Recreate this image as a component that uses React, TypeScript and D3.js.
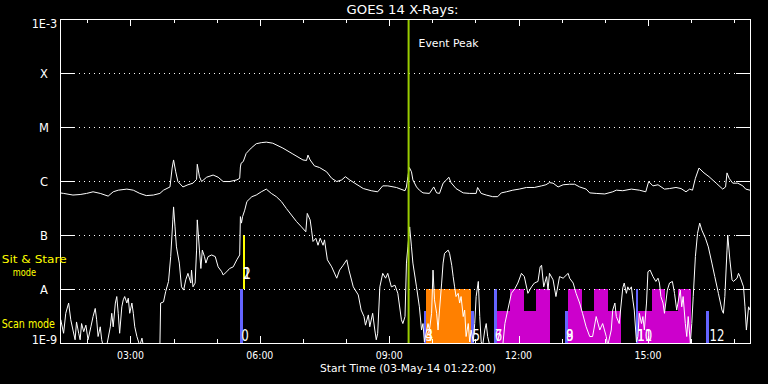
import React from "react";
import * as d3 from "d3";

// ---------- data ----------
const START_UTC = Date.UTC(2014, 4, 3, 1, 22); // 03-May-14 01:22:00
const SPAN_MIN = 960;
const EVENT_PEAK_MIN = 485;

// [minutes after start, log10 flux W/m^2] — GOES long channel (1-8 Å)
const longSeries: [number, number][] = [
  [0,-6.22],[5,-6.23],[18,-6.26],[28,-6.25],[37,-6.23],[46,-6.20],[56,-6.23],[67,-6.28],[74,-6.20],[81,-6.17],
  [93,-6.15],[102,-6.17],[111,-6.23],[120,-6.27],[130,-6.26],[139,-6.23],[144,-6.17],[153,-6.11],[156,-5.76],[158,-5.61],
  [161,-5.83],[164,-6.01],[171,-6.11],[178,-6.07],[185,-6.04],[190,-5.97],[191,-5.69],[194,-5.92],[197,-6.01],[204,-5.93],
  [213,-5.89],[220,-5.93],[227,-6.01],[236,-6.01],[246,-5.98],[250,-5.95],[251,-5.74],[252,-5.67],[255,-5.64],[259,-5.49],
  [266,-5.39],[273,-5.31],[280,-5.29],[287,-5.28],[296,-5.30],[310,-5.39],[324,-5.50],[338,-5.61],[343,-5.62],[345,-5.52],
  [348,-5.61],[354,-5.72],[361,-5.75],[371,-5.83],[378,-5.95],[385,-6.01],[392,-5.98],[397,-5.92],[403,-5.98],[410,-6.04],
  [422,-6.14],[433,-6.18],[442,-6.20],[449,-6.09],[456,-6.09],[468,-6.12],[480,-6.18],[482,-6.11],[484,-5.92],[486,-5.75],
  [489,-5.83],[491,-5.98],[496,-6.11],[500,-6.17],[505,-6.22],[514,-6.23],[520,-6.11],[524,-6.22],[528,-6.23],[533,-6.04],
  [537,-5.99],[541,-5.93],[544,-6.03],[551,-6.14],[561,-6.22],[570,-6.23],[579,-6.23],[581,-6.12],[586,-6.23],[593,-6.26],
  [602,-6.29],[609,-6.29],[614,-6.22],[621,-6.20],[630,-6.17],[639,-6.15],[649,-6.12],[660,-6.12],[670,-6.09],[676,-6.07],
  [681,-6.03],[686,-6.04],[693,-6.11],[700,-6.07],[709,-6.06],[716,-6.06],[723,-6.11],[732,-6.15],[737,-6.22],[746,-6.23],
  [758,-6.24],[769,-6.20],[774,-6.17],[783,-6.18],[795,-6.15],[806,-6.17],[815,-6.20],[819,-6.01],[825,-6.09],[832,-6.07],
  [841,-6.15],[848,-6.14],[857,-6.12],[864,-6.14],[871,-6.20],[876,-6.15],[880,-6.17],[884,-5.95],[889,-5.76],[896,-5.85],
  [903,-5.92],[913,-6.04],[922,-6.15],[926,-6.11],[928,-5.85],[931,-5.95],[936,-6.04],[943,-6.04],[950,-6.09],[954,-6.15],
  [960,-6.17],
];

// [minutes after start, log10 flux] — GOES short channel (0.5-4 Å)
const shortSeries: [number, number][] = [
  [0,-8.76],[1,-8.57],[5,-8.82],[8,-8.45],[12,-8.26],[15,-8.57],[18,-8.76],[21,-8.94],[23,-8.61],[26,-8.82],
  [28,-8.94],[30,-8.64],[33,-8.79],[36,-8.67],[39,-8.94],[43,-8.70],[46,-8.51],[49,-8.36],[51,-8.57],[53,-8.88],
  [56,-8.70],[58,-8.94],[60,-9.05],[65,-9.05],[70,-8.70],[72,-8.45],[74,-8.70],[77,-8.26],[79,-8.14],[81,-8.45],
  [83,-8.82],[86,-8.33],[88,-8.20],[90,-8.14],[93,-8.26],[95,-8.17],[97,-8.45],[100,-8.26],[102,-8.45],[104,-8.70],
  [107,-8.88],[111,-9.05],[114,-8.91],[116,-9.05],[139,-9.05],[140,-8.26],[144,-8.24],[147,-8.05],[151,-7.86],[154,-7.40],
  [157,-6.72],[158,-6.48],[160,-6.85],[162,-7.22],[166,-7.52],[169,-7.96],[172,-8.02],[175,-7.83],[178,-7.71],[182,-7.89],
  [183,-7.65],[185,-7.96],[188,-7.89],[190,-7.28],[191,-6.72],[194,-7.28],[196,-7.62],[198,-7.28],[201,-7.40],[203,-7.52],
  [206,-7.40],[211,-7.37],[216,-7.40],[220,-7.59],[225,-7.68],[227,-7.74],[232,-7.68],[236,-7.62],[241,-7.59],[246,-7.46],
  [250,-7.37],[251,-6.66],[252.5,-6.78],[254,-6.66],[257,-6.54],[260,-6.38],[267,-6.29],[273,-6.26],[280,-6.20],[287,-6.15],
  [294,-6.23],[301,-6.29],[308,-6.38],[315,-6.51],[322,-6.63],[329,-6.75],[336,-6.85],[342,-6.94],[344,-6.60],[348,-6.72],
  [350,-6.91],[352,-7.12],[356,-7.06],[359,-7.19],[362,-7.06],[366,-7.19],[368,-7.09],[372,-7.46],[378,-7.59],[385,-7.80],
  [389,-7.65],[394,-7.56],[399,-7.46],[402,-7.65],[408,-7.96],[415,-8.11],[419,-8.39],[423,-8.51],[425,-8.67],[429,-8.48],
  [431,-8.70],[435,-8.45],[438,-8.76],[440,-8.94],[442,-8.82],[445,-7.96],[449,-7.71],[453,-7.80],[456,-7.71],[461,-7.96],
  [466,-7.93],[470,-8.08],[475,-8.57],[477,-8.64],[480,-8.51],[482,-7.52],[484,-7.22],[486.5,-6.85],[489,-7.22],[491,-7.52],
  [496,-7.96],[500,-8.33],[503,-8.76],[505,-8.64],[507,-8.98],[512,-8.64],[514,-8.76],[517,-8.45],[519,-7.65],[521,-8.20],
  [524,-8.45],[526,-8.76],[528,-8.39],[531,-7.89],[533,-7.52],[535,-7.34],[540,-7.28],[542,-7.34],[545,-7.56],[547,-7.77],
  [549,-7.96],[551,-8.14],[554,-8.08],[556,-8.26],[558,-8.14],[561,-8.51],[563,-8.39],[565,-8.88],[568,-8.64],[570,-8.98],
  [572,-8.76],[575,-8.98],[577,-8.64],[579,-8.14],[582,-7.86],[584,-8.51],[586,-8.98],[588,-9.05],[591,-8.76],[593,-8.64],
  [595,-8.88],[598,-9.05],[616,-9.05],[619,-8.64],[623,-8.39],[628,-8.08],[633,-7.99],[637,-7.89],[642,-7.71],[646,-7.77],
  [651,-8.08],[656,-7.96],[660,-7.89],[665,-7.86],[668,-7.59],[670,-7.56],[673,-7.96],[677,-7.77],[679,-8.02],[681,-7.71],
  [686,-7.83],[690,-8.14],[695,-7.77],[700,-7.80],[707,-7.71],[709,-7.80],[714,-7.89],[718,-8.08],[723,-8.26],[727,-8.45],
  [732,-8.70],[737,-8.88],[741,-8.88],[746,-8.51],[751,-8.76],[755,-8.64],[760,-8.88],[762,-9.05],[767,-8.76],[769,-8.39],
  [772,-8.26],[774,-8.51],[778,-8.64],[783,-7.98],[785,-7.89],[788,-8.08],[790,-7.96],[792,-8.02],[795,-7.96],[797,-8.20],
  [799,-8.39],[802,-8.98],[804,-8.88],[806,-8.45],[809,-8.64],[811,-8.51],[813,-8.76],[816,-8.26],[818,-7.68],[821,-7.65],
  [825,-7.77],[829,-7.86],[832,-7.80],[834,-7.89],[836,-8.14],[839,-8.26],[841,-8.45],[845,-8.02],[848,-7.89],[852,-7.86],
  [855,-8.08],[858,-8.39],[863,-8.02],[865,-8.33],[867,-8.14],[870,-8.64],[872,-8.88],[874,-8.51],[877,-9.0],[879,-8.64],
  [881,-8.14],[884,-7.40],[887,-6.97],[890,-6.78],[893,-6.91],[898,-7.06],[902,-7.22],[907,-7.52],[911,-7.77],[916,-8.08],
  [921,-8.39],[923,-8.45],[925,-8.14],[928,-7.28],[929,-7.00],[932,-7.46],[935,-7.83],[937,-7.86],[942,-7.80],[944,-7.71],
  [946,-7.77],[951,-7.96],[953,-8.33],[955,-8.76],[958,-8.33],[960,-8.39],
];

// observation-mode blocks: start / end (minutes), bottom / top (log10), kind
const blockStart = [250, 506, 572.2, 603.3, 703.3, 801, 898.9, 254, 508.7, 607.8, 706.1, 804.8, 625.5, 661.6, 706.1, 742.3, 823.3, 859.4];
const blockEnd   = [254.5, 508.7, 575.5, 607.8, 706.1, 804.8, 903.5, 257.6, 572.2, 682.1, 780.8, 878.1, 645, 682.1, 726, 763.1, 842.3, 878.1];
const blockLow   = [-9, -9, -9, -9, -9, -9, -9, -8, -9, -9, -9, -9, -8.41, -8.41, -8.41, -8.41, -8.41, -8.41];
const blockHigh  = [-8, -8.4, -8.4, -8, -8.4, -8, -8.4, -7, -8, -8.4, -8.4, -8.4, -8, -8, -8, -8, -8, -8];
const blockKind  = ["scan","scan","scan","scan","scan","scan","scan","sit","orange","magenta","magenta","magenta","magenta","magenta","magenta","magenta","magenta","magenta"];

// observation numbers
const labelMin  = [252, 255, 508.5, 574, 605, 704, 803, 903.5];
const labelLog  = [-8.96, -7.82, -8.96, -8.96, -8.96, -8.96, -8.96, -8.96];
const labelText = [["0"], ["1", "2"], ["3", "4"], ["5"], ["6", "7"], ["8", "9"], ["10", "11"], ["12"]];

const decadeExp = [-9, -8, -7, -6, -5, -4, -3];
const decadeLabel = ["1E-9", "A", "B", "C", "M", "X", "1E-3"];

// ---------- layout ----------
const W = 768, H = 384;
const L = 60, R = 750, T = 19, B = 343;
const FONT = "DejaVu Sans, Verdana, sans-serif";
const COLORS: Record<string, string> = {
  scan: "#6464ff", sit: "#ffff00", orange: "#ff8000", magenta: "#cc00cc",
};

export default function App() {
  const x = d3.scaleUtc()
    .domain([new Date(START_UTC), new Date(START_UTC + SPAN_MIN * 60000)])
    .range([L, R]);
  const xm = (m: number) => x(new Date(START_UTC + m * 60000));
  const y = d3.scaleLog().domain([1e-9, 1e-3]).range([B, T]);
  const yl = (v: number) => y(Math.pow(10, v));

  const line = d3.line<[number, number]>()
    .x((d) => xm(d[0]))
    .y((d) => yl(d[1]));

  const hourTicks = x.ticks(d3.utcHour.every(1) as any);
  const fmt = d3.utcFormat("%H:%M");
  const peakX = xm(EVENT_PEAK_MIN);

  return (
    <svg width={W} height={H} style={{ position: "absolute", left: 0, top: 0, display: "block" }}
      fontFamily={FONT}>
      <defs>
        <clipPath id="plot"><rect x={L} y={T} width={R - L} height={B - T} /></clipPath>
      </defs>
      <rect x={0} y={0} width={W} height={H} fill="#000" />

      {/* mode blocks */}
      <g clipPath="url(#plot)" shapeRendering="crispEdges">
        {blockStart.map((s, i) => (
          <rect key={i} x={xm(s)} width={xm(blockEnd[i]) - xm(s)}
            y={yl(blockHigh[i])} height={yl(blockLow[i]) - yl(blockHigh[i])}
            fill={COLORS[blockKind[i]]} />
        ))}
      </g>

      {/* dotted decade lines */}
      <g stroke="#fff" strokeWidth={1} shapeRendering="crispEdges">
        {decadeExp.slice(1, -1).map((e) => {
          const yy = Math.round(y(Math.pow(10, e))) + 0.5;
          return (
            <g key={e}>
              <line x1={L + 14} x2={R - 14} y1={yy} y2={yy} strokeDasharray="1,4" />
              <line x1={L} x2={L + 14} y1={yy} y2={yy} />
              <line x1={R - 14} x2={R} y1={yy} y2={yy} />
            </g>
          );
        })}
      </g>

      {/* curves */}
      <g clipPath="url(#plot)" fill="none" stroke="#fff" strokeWidth={1}>
        <path d={line(longSeries) || ""} />
        <path d={line(shortSeries) || ""} />
      </g>

      {/* event peak */}
      <line x1={peakX} x2={peakX} y1={T} y2={B} stroke="#99cc00" strokeWidth={2} />
      <text x={peakX + 10} y={47} fill="#fff" fontSize={10.5} textLength={60} lengthAdjust="spacingAndGlyphs">Event Peak</text>

      {/* observation numbers */}
      <g fill="#fff" fontSize={16}>
        {labelMin.map((m, i) =>
          labelText[i].map((t, j) => (
            <text key={i + "-" + j} x={xm(m)} y={yl(labelLog[i])}
              textLength={t.length * 7.5} lengthAdjust="spacingAndGlyphs">{t}</text>
          ))
        )}
      </g>

      {/* frame */}
      <rect x={L + 0.5} y={T + 0.5} width={R - L} height={B - T} fill="none" stroke="#fff" strokeWidth={1} shapeRendering="crispEdges" />

      {/* x ticks */}
      <g stroke="#fff" shapeRendering="crispEdges">
        {hourTicks.map((d, i) => {
          const xx = Math.round(x(d)) + 0.5;
          const major = d.getUTCHours() % 3 === 0;
          const len = major ? 7 : 4;
          return (
            <g key={i}>
              <line x1={xx} x2={xx} y1={T} y2={T + len} />
              <line x1={xx} x2={xx} y1={B} y2={B - len} />
            </g>
          );
        })}
      </g>
      <g fill="#fff" fontSize={10} textAnchor="middle">
        {hourTicks.filter((d) => d.getUTCHours() % 3 === 0).map((d, i) => (
          <text key={i} x={x(d)} y={359} textLength={27} lengthAdjust="spacingAndGlyphs">{fmt(d)}</text>
        ))}
      </g>

      {/* y labels */}
      <g fill="#fff" fontSize={11.5}>
        {decadeExp.map((e, i) => {
          const yy = y(Math.pow(10, e));
          const lab = decadeLabel[i];
          if (lab.length > 1) {
            const base = e === -3 ? yy + 8.5 : yy + 1;
            return <text key={e} x={57.3} y={base} textAnchor="end" textLength={25.6} lengthAdjust="spacingAndGlyphs">{lab}</text>;
          }
          return <text key={e} x={44} y={yy + 5} textAnchor="middle">{lab}</text>;
        })}
      </g>

      {/* mode names */}
      <g fill="#ffff00" fontSize={11}>
        <text x={1.7} y={263} textLength={65} lengthAdjust="spacingAndGlyphs">Sit &amp; Stare</text>
        <text x={12.7} y={276} textLength={23.3} lengthAdjust="spacingAndGlyphs">mode</text>
        <text x={1.7} y={327.7} fontSize={11.5} textLength={53.3} lengthAdjust="spacingAndGlyphs">Scan mode</text>
      </g>

      {/* titles */}
      <text x={402.5} y={14} fill="#fff" fontSize={12.5} textAnchor="middle" textLength={112} lengthAdjust="spacingAndGlyphs">GOES 14 X-Rays:</text>
      <text x={408} y={372} fill="#fff" fontSize={10.5} textAnchor="middle" textLength={176} lengthAdjust="spacingAndGlyphs">Start Time (03-May-14 01:22:00)</text>
    </svg>
  );
}
